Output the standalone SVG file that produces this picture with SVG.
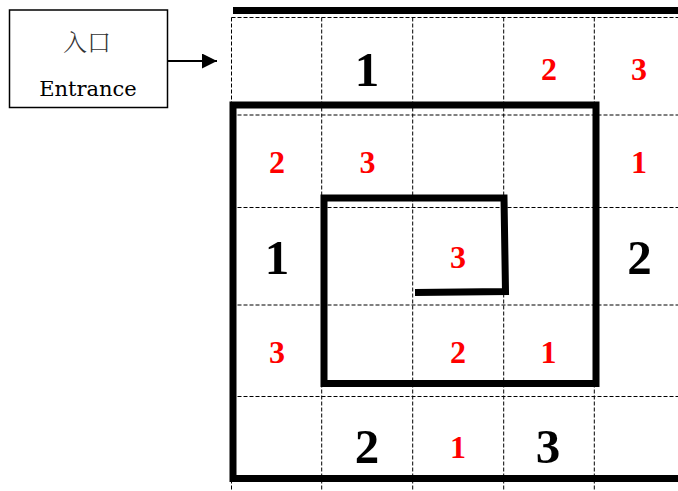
<svg xmlns="http://www.w3.org/2000/svg" width="678" height="491" viewBox="0 0 678 491">
<defs>
<style>
.grid{stroke:#000;stroke-width:1;stroke-dasharray:4 2;fill:none}
.wall{stroke:#000;stroke-width:7;fill:none;stroke-linejoin:miter;stroke-linecap:butt}
.big{font-family:"Liberation Serif","Times New Roman",serif;font-weight:bold;font-size:49px;fill:#000;text-anchor:middle}
.red{font-family:"Liberation Serif","Times New Roman",serif;font-weight:bold;font-size:32px;fill:#ff0000;text-anchor:middle}
.lbl{font-family:"DejaVu Serif",serif;font-size:21px;fill:#000;text-anchor:middle}
.cjk{font-family:"Noto Serif CJK SC","Noto Sans CJK SC",serif;font-size:24px;font-weight:300;fill:#333;text-anchor:middle}
</style>
<marker id="ah" markerWidth="16" markerHeight="16" refX="15" refY="7.5" orient="auto" markerUnits="userSpaceOnUse">
<path d="M0,0 L15,7.5 L0,15 Z" fill="#000"/>
</marker>
</defs>
<rect width="678" height="491" fill="#fff"/>
<g id="grid">
<path class="grid" d="M231.5,17.5V491 M321.7,17.5V491 M412.7,17.5V491 M503.7,17.5V491 M594.3,17.5V491"/>
<path class="grid" d="M231.5,17.5H678 M231.5,115H678 M231.5,207.5H678 M231.5,305H678 M231.5,396.5H678"/>
</g>
<g id="walls">
<line class="wall" x1="233" y1="10.5" x2="678" y2="10.5"/>
<path class="wall" d="M678,478.5 L233,478.5 L233,105 L596,105 L596,383.5 L324,383.5 L324,198 L504,198 L505.5,291.5 L415,292.5"/>
</g>
<g id="entrance">
<rect x="9.5" y="10" width="158" height="97.5" fill="#fff" stroke="#000" stroke-width="1.5"/>
<text class="cjk" x="87" y="51">入口</text>
<text class="lbl" x="88" y="96">Entrance</text>
</g>
<g id="connectors">
<line x1="168" y1="61" x2="217" y2="61" stroke="#000" stroke-width="2" marker-end="url(#ah)"/>
</g>
<g id="numbers">
<text class="big" x="367" y="86">1</text>
<text class="red" x="549" y="80">2</text>
<text class="red" x="639" y="80">3</text>
<text class="red" x="277" y="173">2</text>
<text class="red" x="367.5" y="173">3</text>
<text class="red" x="639" y="173">1</text>
<text class="big" x="277" y="274">1</text>
<text class="red" x="458" y="268">3</text>
<text class="big" x="639.5" y="274">2</text>
<text class="red" x="277" y="363">3</text>
<text class="red" x="458" y="363">2</text>
<text class="red" x="548.5" y="363">1</text>
<text class="big" x="367" y="463">2</text>
<text class="red" x="458" y="458">1</text>
<text class="big" x="548" y="463">3</text>
</g>
</svg>
